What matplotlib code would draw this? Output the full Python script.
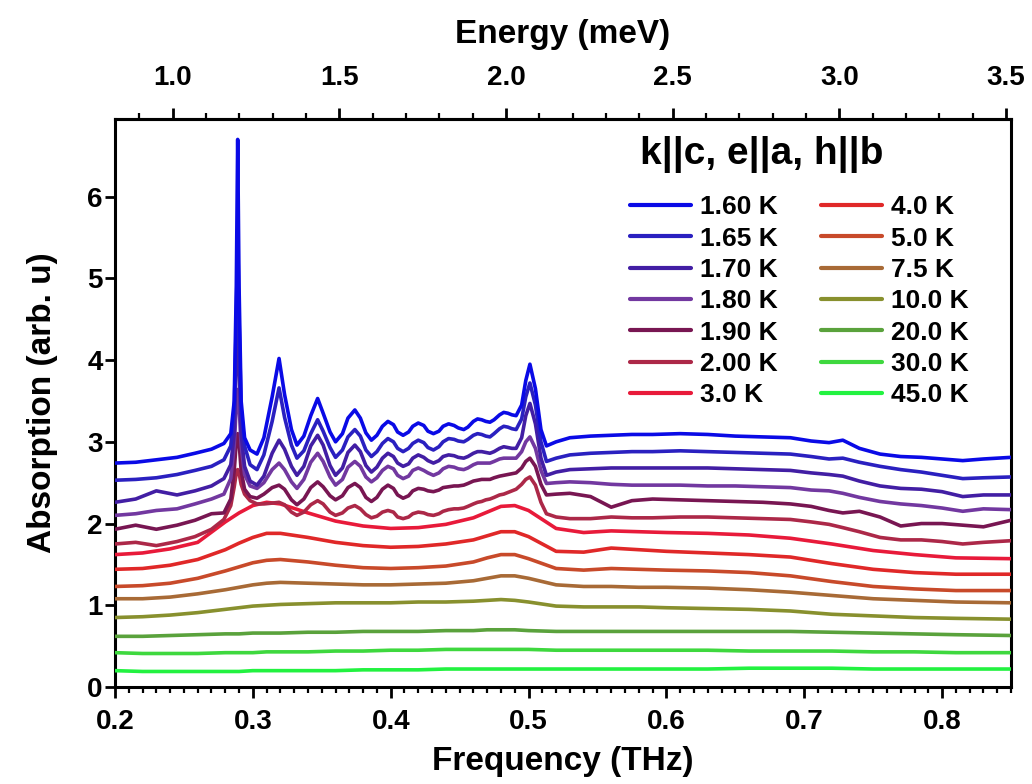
import matplotlib
matplotlib.use("Agg")
import matplotlib.pyplot as plt
from matplotlib.ticker import MultipleLocator, FormatStrFormatter, FixedLocator

plt.rcParams['font.family'] = ['Liberation Sans', 'DejaVu Sans']
plt.rcParams['font.weight'] = 'bold'

# ---------------- data ----------------
TEMPS = ['1.60 K', '1.65 K', '1.70 K', '1.80 K', '1.90 K', '2.00 K', '3.0 K',
         '4.0 K', '5.0 K', '7.5 K', '10.0 K', '20.0 K', '30.0 K', '45.0 K']
COLORS = ['#0a0ae6', '#2a20c0', '#421ea4', '#7238a0', '#781652', '#ac2848',
          '#e81a3a', '#e02828', '#c84a2a', '#a86a36', '#88902e', '#5aa23c',
          '#3ed83e', '#22f240']
LEGEND_TITLE = 'k||c, e||a, h||b'
ENERGY_TICKS = [1.0, 1.5, 2.0, 2.5, 3.0, 3.5]

# fine frequency grid (THz) for the low-temperature curves
FREQ_FINE = ([0.200, 0.215, 0.230, 0.245, 0.258, 0.270, 0.279, 0.284, 0.2865, 0.288,
              0.289, 0.290, 0.2915, 0.294, 0.298]
             + [0.303, 0.308, 0.314, 0.319, 0.323, 0.328, 0.332, 0.337, 0.342, 0.347,
                0.351, 0.356, 0.360, 0.365, 0.369, 0.374, 0.378, 0.382, 0.386, 0.390,
                0.394, 0.398, 0.402, 0.405, 0.409, 0.413, 0.416, 0.420, 0.424, 0.427,
                0.431, 0.435, 0.438, 0.442, 0.446, 0.449, 0.453, 0.456, 0.460, 0.463,
                0.466, 0.469, 0.472, 0.475, 0.479, 0.482, 0.485, 0.488, 0.491, 0.495,
                0.498, 0.501, 0.505, 0.509, 0.513]
             + [0.520, 0.530, 0.545, 0.560, 0.575, 0.590, 0.610, 0.630, 0.650, 0.670,
                0.690, 0.705, 0.718, 0.728, 0.740, 0.755, 0.770, 0.785, 0.800, 0.815,
                0.830, 0.850])

A_160 = ([2.74, 2.75, 2.78, 2.81, 2.86, 2.91, 2.98, 3.10, 3.50, 4.90,
          6.70, 4.90, 3.50, 3.05, 2.90]
         + [2.85, 3.05, 3.55, 4.02, 3.58, 3.15, 2.96, 3.07, 3.32, 3.53,
            3.35, 3.12, 3.00, 3.10, 3.29, 3.39, 3.29, 3.11, 3.02, 3.08,
            3.19, 3.25, 3.21, 3.12, 3.08, 3.12, 3.19, 3.23, 3.20, 3.13,
            3.10, 3.13, 3.19, 3.22, 3.20, 3.17, 3.15, 3.18, 3.25, 3.28,
            3.27, 3.25, 3.24, 3.27, 3.33, 3.36, 3.35, 3.33, 3.32, 3.45,
            3.75, 3.95, 3.65, 3.15, 2.95]
         + [3.00, 3.05, 3.07, 3.08, 3.09, 3.09, 3.10, 3.09, 3.07, 3.06,
            3.05, 3.01, 2.99, 3.02, 2.92, 2.85, 2.82, 2.81, 2.79, 2.77,
            2.79, 2.81])
A_165 = ([2.53, 2.54, 2.56, 2.60, 2.65, 2.70, 2.78, 2.95, 3.40, 4.50,
          5.60, 4.50, 3.40, 2.95, 2.72]
         + [2.66, 2.84, 3.25, 3.66, 3.30, 2.96, 2.80, 2.89, 3.10, 3.27,
            3.13, 2.93, 2.81, 2.90, 3.06, 3.15, 3.07, 2.90, 2.82, 2.88,
            2.98, 3.04, 3.00, 2.92, 2.88, 2.92, 2.98, 3.02, 2.99, 2.93,
            2.90, 2.94, 3.00, 3.04, 3.03, 3.01, 3.00, 3.03, 3.08, 3.10,
            3.09, 3.07, 3.06, 3.10, 3.16, 3.19, 3.18, 3.16, 3.15, 3.28,
            3.55, 3.72, 3.45, 3.00, 2.76]
         + [2.80, 2.84, 2.86, 2.87, 2.88, 2.88, 2.89, 2.88, 2.87, 2.86,
            2.85, 2.82, 2.79, 2.80, 2.75, 2.70, 2.66, 2.63, 2.59, 2.55,
            2.56, 2.57])
A_170 = ([2.26, 2.30, 2.40, 2.35, 2.40, 2.46, 2.55, 2.72, 3.10, 4.00,
          4.60, 4.00, 3.10, 2.70, 2.52]
         + [2.47, 2.58, 2.86, 3.02, 2.91, 2.70, 2.59, 2.70, 2.95, 3.08,
            2.96, 2.71, 2.59, 2.68, 2.87, 2.96, 2.88, 2.71, 2.63, 2.69,
            2.80, 2.86, 2.82, 2.74, 2.70, 2.73, 2.80, 2.84, 2.81, 2.77,
            2.74, 2.77, 2.82, 2.84, 2.83, 2.81, 2.80, 2.82, 2.86, 2.88,
            2.88, 2.87, 2.86, 2.88, 2.92, 2.94, 2.93, 2.92, 2.92, 3.05,
            3.32, 3.47, 3.22, 2.80, 2.59]
         + [2.63, 2.66, 2.67, 2.68, 2.68, 2.68, 2.68, 2.68, 2.67, 2.66,
            2.65, 2.62, 2.60, 2.58, 2.52, 2.46, 2.43, 2.42, 2.39, 2.33,
            2.35, 2.35])
A_180 = ([2.10, 2.12, 2.16, 2.18, 2.24, 2.30, 2.36, 2.55, 2.95, 3.45,
          3.64, 3.45, 2.95, 2.60, 2.46]
         + [2.43, 2.50, 2.66, 2.74, 2.66, 2.51, 2.43, 2.54, 2.75, 2.86,
            2.76, 2.57, 2.47, 2.54, 2.69, 2.76, 2.70, 2.57, 2.51, 2.56,
            2.65, 2.70, 2.67, 2.59, 2.55, 2.58, 2.65, 2.68, 2.65, 2.62,
            2.59, 2.62, 2.67, 2.70, 2.69, 2.67, 2.66, 2.68, 2.72, 2.74,
            2.74, 2.74, 2.74, 2.76, 2.79, 2.80, 2.80, 2.80, 2.80, 2.88,
            3.00, 3.06, 2.92, 2.65, 2.49]
         + [2.50, 2.51, 2.50, 2.48, 2.47, 2.47, 2.47, 2.46, 2.46, 2.45,
            2.44, 2.41, 2.40, 2.37, 2.32, 2.27, 2.24, 2.22, 2.19, 2.15,
            2.18, 2.17])
A_190 = ([1.93, 1.98, 1.93, 1.98, 2.04, 2.12, 2.13, 2.30, 2.65, 3.00,
          3.10, 3.00, 2.65, 2.42, 2.33]
         + [2.31, 2.36, 2.44, 2.47, 2.42, 2.29, 2.23, 2.30, 2.44, 2.51,
            2.45, 2.34, 2.29, 2.34, 2.44, 2.49, 2.44, 2.32, 2.27, 2.32,
            2.42, 2.47, 2.43, 2.35, 2.31, 2.34, 2.40, 2.43, 2.42, 2.40,
            2.39, 2.41, 2.44, 2.45, 2.46, 2.46, 2.47, 2.49, 2.52, 2.53,
            2.54, 2.54, 2.54, 2.56, 2.58, 2.59, 2.60, 2.61, 2.62, 2.68,
            2.76, 2.80, 2.70, 2.48, 2.35]
         + [2.36, 2.37, 2.33, 2.20, 2.28, 2.30, 2.29, 2.28, 2.27, 2.26,
            2.24, 2.21, 2.16, 2.13, 2.15, 2.08, 1.97, 2.00, 2.00, 1.98,
            1.96, 2.04])
A_200 = ([1.75, 1.77, 1.73, 1.78, 1.84, 1.93, 2.05, 2.22, 2.45, 2.62,
          2.66, 2.62, 2.48, 2.36, 2.28]
         + [2.24, 2.24, 2.25, 2.26, 2.23, 2.14, 2.10, 2.14, 2.23, 2.28,
            2.24, 2.14, 2.10, 2.13, 2.19, 2.22, 2.18, 2.11, 2.07, 2.09,
            2.14, 2.16, 2.14, 2.08, 2.06, 2.08, 2.12, 2.14, 2.13, 2.11,
            2.10, 2.12, 2.15, 2.17, 2.18, 2.18, 2.19, 2.21, 2.24, 2.26,
            2.27, 2.29, 2.30, 2.32, 2.35, 2.36, 2.38, 2.40, 2.42, 2.48,
            2.54, 2.57, 2.47, 2.26, 2.12]
         + [2.08, 2.06, 2.06, 2.08, 2.07, 2.07, 2.08, 2.08, 2.07, 2.06,
            2.05, 2.02, 1.99, 1.95, 1.90, 1.83, 1.80, 1.80, 1.78, 1.75,
            1.77, 1.79])

# coarse frequency grid (THz) for the smoother higher-temperature curves
FREQ_COARSE = [0.20, 0.22, 0.24, 0.26, 0.28, 0.29, 0.30, 0.31, 0.32, 0.34, 0.36,
               0.38, 0.40, 0.42, 0.44, 0.46, 0.47, 0.48, 0.49, 0.50, 0.52, 0.54,
               0.56, 0.58, 0.60, 0.63, 0.66, 0.69, 0.72, 0.75, 0.78, 0.81, 0.85]

A_300 = [1.62, 1.64, 1.69, 1.77, 2.02, 2.13, 2.22, 2.26, 2.24, 2.13, 2.03,
         1.97, 1.94, 1.95, 1.99, 2.07, 2.14, 2.21, 2.22, 2.16, 1.94, 1.89,
         1.91, 1.90, 1.89, 1.88, 1.86, 1.82, 1.75, 1.67, 1.62, 1.58, 1.57]
A_400 = [1.44, 1.45, 1.49, 1.56, 1.68, 1.76, 1.83, 1.88, 1.88, 1.83, 1.77,
         1.73, 1.71, 1.72, 1.75, 1.80, 1.85, 1.90, 1.90, 1.84, 1.66, 1.65,
         1.70, 1.68, 1.66, 1.64, 1.62, 1.59, 1.51, 1.44, 1.40, 1.38, 1.38]
A_500 = [1.23, 1.24, 1.27, 1.33, 1.42, 1.47, 1.52, 1.55, 1.56, 1.53, 1.49,
         1.46, 1.45, 1.46, 1.48, 1.53, 1.58, 1.62, 1.62, 1.57, 1.45, 1.43,
         1.45, 1.44, 1.43, 1.42, 1.40, 1.36, 1.29, 1.23, 1.20, 1.18, 1.18]
A_750 = [1.08, 1.08, 1.10, 1.14, 1.19, 1.22, 1.25, 1.27, 1.28, 1.27, 1.26,
         1.25, 1.25, 1.26, 1.27, 1.30, 1.33, 1.36, 1.36, 1.33, 1.25, 1.23,
         1.23, 1.22, 1.22, 1.21, 1.19, 1.16, 1.12, 1.08, 1.06, 1.04, 1.03]
A_1000 = [0.85, 0.86, 0.88, 0.91, 0.95, 0.97, 0.99, 1.00, 1.01, 1.02, 1.03,
          1.03, 1.03, 1.04, 1.04, 1.05, 1.06, 1.07, 1.06, 1.04, 0.99, 0.98,
          0.98, 0.98, 0.97, 0.96, 0.95, 0.93, 0.89, 0.87, 0.85, 0.84, 0.83]
A_2000 = [0.62, 0.62, 0.63, 0.64, 0.65, 0.65, 0.66, 0.66, 0.66, 0.67, 0.67,
          0.68, 0.68, 0.68, 0.69, 0.69, 0.70, 0.70, 0.70, 0.69, 0.68, 0.68,
          0.68, 0.68, 0.68, 0.68, 0.68, 0.68, 0.67, 0.66, 0.65, 0.64, 0.63]
A_3000 = [0.42, 0.41, 0.41, 0.41, 0.42, 0.42, 0.42, 0.43, 0.43, 0.43, 0.44,
          0.44, 0.45, 0.45, 0.46, 0.46, 0.46, 0.46, 0.46, 0.46, 0.45, 0.45,
          0.45, 0.45, 0.45, 0.45, 0.44, 0.44, 0.44, 0.43, 0.43, 0.42, 0.42]
A_4500 = [0.20, 0.19, 0.19, 0.19, 0.19, 0.19, 0.20, 0.20, 0.20, 0.20, 0.20,
          0.21, 0.21, 0.21, 0.22, 0.22, 0.22, 0.22, 0.22, 0.22, 0.22, 0.22,
          0.22, 0.22, 0.22, 0.22, 0.23, 0.23, 0.23, 0.22, 0.22, 0.22, 0.22]

SERIES = [(FREQ_FINE, A_160), (FREQ_FINE, A_165), (FREQ_FINE, A_170),
          (FREQ_FINE, A_180), (FREQ_FINE, A_190), (FREQ_FINE, A_200),
          (FREQ_COARSE, A_300), (FREQ_COARSE, A_400), (FREQ_COARSE, A_500),
          (FREQ_COARSE, A_750), (FREQ_COARSE, A_1000), (FREQ_COARSE, A_2000),
          (FREQ_COARSE, A_3000), (FREQ_COARSE, A_4500)]
for xs, ys in SERIES:
    assert len(xs) == len(ys), (len(xs), len(ys))

THZ_TO_MEV = 4.13567

# ---------------- figure ----------------
fig = plt.figure(figsize=(10.32, 7.84), dpi=100)
ax = fig.add_axes([115 / 1032, 1 - 687 / 784, (1011 - 115) / 1032, (687 - 119) / 784])

n = len(SERIES)
for i in range(n - 1, -1, -1):
    xs, ys = SERIES[i]
    ax.plot(xs, ys, color=COLORS[i], lw=2.6, label=TEMPS[i], zorder=3 + (n - i),
            solid_joinstyle='round', solid_capstyle='round')

ax.set_xlim(0.2, 0.85)
ax.set_ylim(0, 6.95)

ax.xaxis.set_major_locator(MultipleLocator(0.1))
ax.xaxis.set_minor_locator(MultipleLocator(0.01))
ax.xaxis.set_major_formatter(FormatStrFormatter('%.1f'))
ax.yaxis.set_major_locator(MultipleLocator(1))

for s in ax.spines.values():
    s.set_linewidth(2.2)

ax.tick_params(axis='x', which='major', direction='out', length=8, width=2, labelsize=20, pad=8)
ax.tick_params(axis='x', which='minor', direction='out', length=4, width=1.6)
ax.tick_params(axis='y', which='major', direction='out', length=7, width=2, labelsize=20, pad=2)
for lab in ax.get_xticklabels() + ax.get_yticklabels():
    lab.set_fontweight('bold')

ax.set_xlabel('Frequency (THz)', fontsize=24, fontweight='bold', labelpad=8)
ax.set_ylabel('Absorption (arb. u)', fontsize=24, fontweight='bold', labelpad=21)

sec = ax.secondary_xaxis('top', functions=(lambda f: f * THZ_TO_MEV, lambda e: e / THZ_TO_MEV))
sec.xaxis.set_major_locator(FixedLocator(ENERGY_TICKS))
sec.xaxis.set_minor_locator(MultipleLocator(0.1))
sec.xaxis.set_major_formatter(FormatStrFormatter('%.1f'))
sec.tick_params(axis='x', which='major', direction='out', length=8, width=2, labelsize=20, pad=12)
sec.tick_params(axis='x', which='minor', direction='out', length=4, width=1.6)
sec.spines['top'].set_linewidth(2.2)
for lab in sec.get_xticklabels():
    lab.set_fontweight('bold')
sec.set_xlabel('Energy (meV)', fontsize=24, fontweight='bold', labelpad=16)

handles, labels = ax.get_legend_handles_labels()
order = list(range(n - 1, -1, -1))
handles = [handles[k] for k in order]
labels = [labels[k] for k in order]
leg = ax.legend(handles, labels, ncol=2, loc='upper left', bbox_to_anchor=(0.575, 0.866),
                frameon=False, prop={'size': 19, 'weight': 'bold'},
                handlelength=2.3, handletextpad=0.36, columnspacing=1.62,
                labelspacing=0.28, borderpad=0, borderaxespad=0)
for line in leg.get_lines():
    line.set_linewidth(3)
ax.text(0.586, 0.937, LEGEND_TITLE, transform=ax.transAxes, ha='left', va='center',
        fontsize=28, fontweight='bold', zorder=30)

fig.savefig('out.png', dpi=100)
